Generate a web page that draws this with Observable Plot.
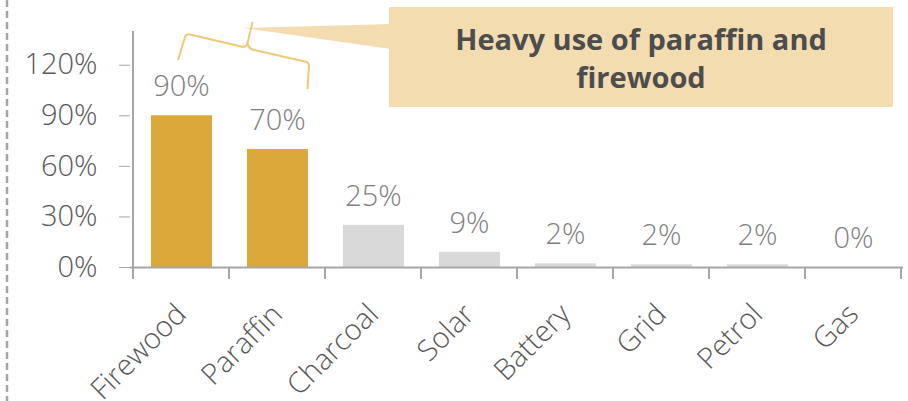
<!DOCTYPE html>
<html><head><meta charset="utf-8">
<script src="https://cdn.jsdelivr.net/npm/d3@7"></script>
<script src="https://cdn.jsdelivr.net/npm/@observablehq/plot@0.6"></script>
<style>html,body{margin:0;padding:0;background:#fff;} svg{display:block}</style>
</head><body><div id="chart"></div>
<script>
const categories = ["Firewood","Paraffin","Charcoal","Solar","Battery","Grid","Petrol","Gas"];
const shares = [0.90, 0.70, 0.25, 0.09, 0.022, 0.016, 0.016, 0.0];
const highlighted = ["Firewood","Paraffin"];
const yTicks = [0, 0.3, 0.6, 0.9, 1.2];
const calloutLines = ["Heavy use of paraffin and", "firewood"];

const data = categories.map((c, i) => ({category: c, share: shares[i], hi: highlighted.includes(c)}));
const fmt = d3.format(".0%");
const W = 908, H = 401;
const FONT = "'Open Sans', 'Noto Sans', sans-serif";

const plot = Plot.plot({
  width: W, height: H,
  marginLeft: 130, marginRight: 5, marginTop: 31, marginBottom: 134,
  style: {fontFamily: FONT, fontWeight: 360, background: "#fff", overflow: "visible"},
  x: {domain: categories, padding: 0, label: null},
  y: {domain: [0, 1.4], label: null},
  marks: [
    Plot.barY(data, {x: "category", y: "share", fill: d => d.hi ? "#DDA83A" : "#D9D9D9", insetLeft: 18, insetRight: 17}),
    Plot.text(data, {x: "category", y: "share", text: d => fmt(d.share), dy: -29, fill: "#7F7F7F", fontSize: 29}),
    Plot.axisY({ticks: yTicks, tickFormat: fmt, tickSize: 11, tickPadding: 22, stroke: "#A6A6A6", fill: "#595959", fontSize: 29, label: null}),
    Plot.axisX({tickRotate: -45, tickSize: 0, tickPadding: 42, fill: "#595959", fontSize: 29, label: null}),
    Plot.ruleY([0], {stroke: "#A6A6A6", strokeWidth: 2})
  ]
});
document.getElementById("chart").appendChild(plot);

// annotations positioned with the plot's scales
const sx = plot.scale("x"), sy = plot.scale("y");
const bw = sx.bandwidth;
const svg = d3.select(plot);
const y0 = sy.apply(0), yTop = sy.apply(1.4);
const xLeft = sx.apply(categories[0]);
const xRight = sx.apply(categories[categories.length - 1]) + bw;

// y axis line
svg.append("line").attr("x1", xLeft).attr("x2", xLeft).attr("y1", yTop).attr("y2", y0 + 1)
  .attr("stroke", "#A6A6A6").attr("stroke-width", 2);
// x ticks at band boundaries
const bounds = categories.map(c => sx.apply(c)).concat([xRight]);
svg.append("g").selectAll("line").data(bounds).join("line")
  .attr("x1", d => d).attr("x2", d => d).attr("y1", y0).attr("y2", y0 + 12)
  .attr("stroke", "#A6A6A6").attr("stroke-width", 2);

// dashed separator on the left
svg.append("line").attr("x1", 7).attr("x2", 7).attr("y1", 0).attr("y2", H)
  .attr("stroke", "#A6A6A6").attr("stroke-width", 2.5).attr("stroke-dasharray", "7,4");

// callout
const boxX = 389, boxY = 7, boxW = 504, boxH = 100;
const calloutFill = "#F2DCB0";
svg.append("polygon").attr("points", `244,28 ${boxX + 2},24 ${boxX + 2},49`).attr("fill", calloutFill);
svg.append("rect").attr("x", boxX).attr("y", boxY).attr("width", boxW).attr("height", boxH).attr("fill", calloutFill);
svg.append("text").attr("x", boxX + boxW / 2).attr("y", 50).attr("text-anchor", "middle")
  .attr("font-family", FONT).attr("font-weight", "bold").attr("font-size", 29).attr("fill", "#4D4D4D")
  .selectAll("tspan").data(calloutLines).join("tspan")
  .attr("x", boxX + boxW / 2).attr("dy", (d, i) => i === 0 ? 0 : 38).text(d => d);

// brace over the highlighted bars
svg.append("path")
  .attr("d", "M178,60 L185,37 Q186.5,33.5 190,34.5 L241,46.5 Q246.5,47.5 247.5,43 L252.5,22 M247.5,43 Q248.5,49 254,50 L305,61.5 Q309,62.5 309,66 L307.5,89")
  .attr("fill", "none").attr("stroke", "#F0C878").attr("stroke-width", 2).attr("stroke-linejoin", "round");
</script>
</body></html>
